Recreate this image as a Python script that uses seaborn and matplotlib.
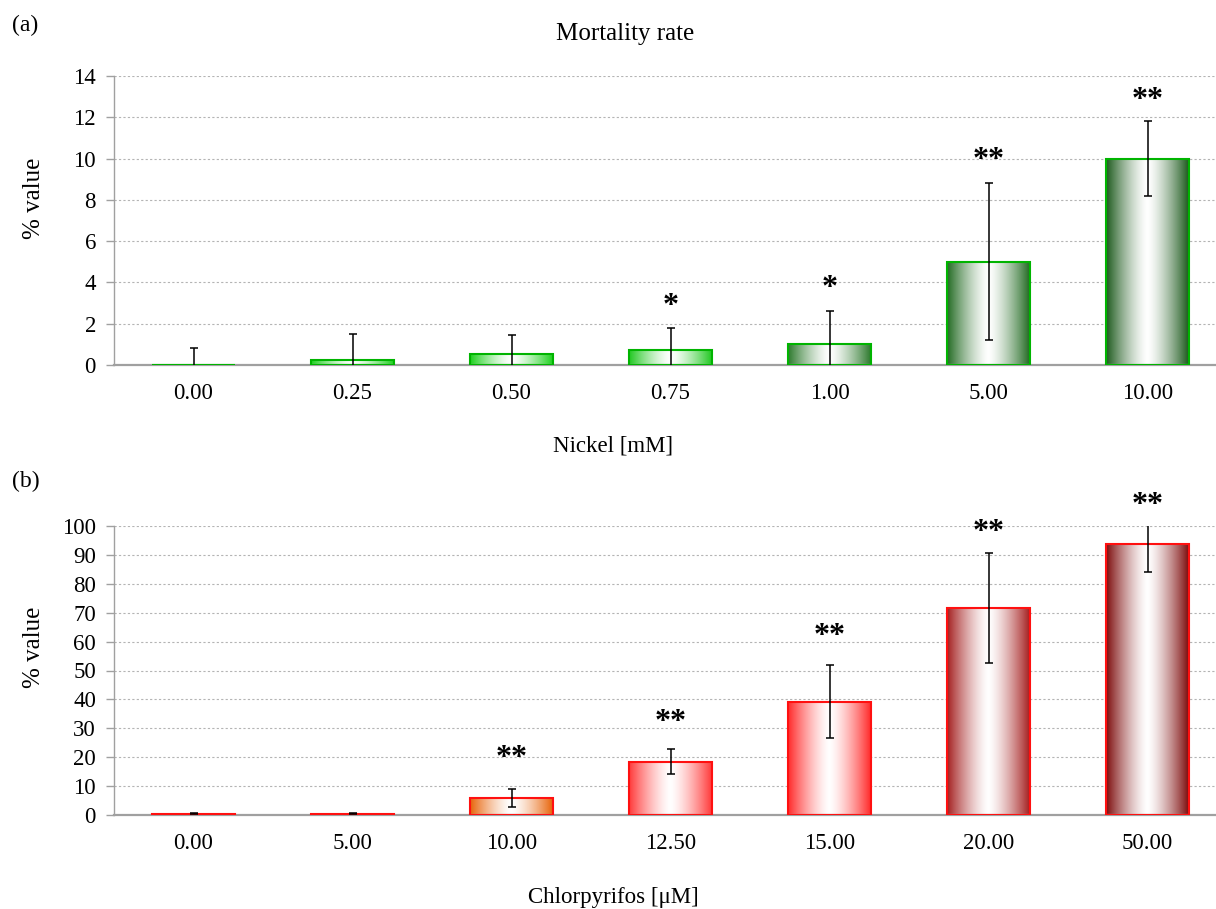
import numpy as np
import matplotlib
matplotlib.use("Agg")
import matplotlib.pyplot as plt
import seaborn as sns
from matplotlib.colors import to_rgb

# Panel (a): nickel
ni_labels = ['0.00', '0.25', '0.50', '0.75', '1.00', '5.00', '10.00']
ni_mean = [0.0, 0.24, 0.52, 0.72, 1.0, 5.0, 10.0]
ni_err = [0.81, 1.24, 0.92, 1.05, 1.6, 3.8, 1.8]
ni_sig = ['', '', '', '*', '*', '**', '**']
ni_sig_y = [0, 0, 0, 3.3, 4.2, 10.4, 13.3]
ni_colors = ['#1ed21e', '#1ed21e', '#1ed21e', '#22c822', '#2e7a2e', '#236b23', '#1d5a1d']

# Panel (b): chlorpyrifos
cp_labels = ['0.00', '5.00', '10.00', '12.50', '15.00', '20.00', '50.00']
cp_mean = [0.5, 0.4, 5.8, 18.5, 39.2, 71.7, 93.7]
cp_err = [0.2, 0.15, 3.1, 4.4, 12.6, 19.1, 9.5]
cp_sig = ['', '', '**', '**', '**', '**', '**']
cp_sig_y = [0, 0, 22.8, 35.5, 65, 101, 110.5]
cp_colors = ['#e23030', '#e23030', '#e8640a', '#ff3a3a', '#ff2a2a', '#a52020', '#7e0c0c']

sns.set_style("white")
plt.rcParams['font.family'] = ['Liberation Serif', 'DejaVu Serif']
plt.rcParams['text.color'] = 'black'

W, H = 1216, 909
fig = plt.figure(figsize=(W / 100, H / 100), dpi=100)
ax_a = fig.add_axes([114 / W, 1 - 365 / H, 1113 / W, 289 / H])
ax_b = fig.add_axes([114 / W, 1 - 815 / H, 1113 / W, 289 / H])


def gradient(color):
    c = np.array(to_rgb(color))
    u = np.linspace(0, 1, 200)
    t = np.abs(2 * u - 1) ** 1.4
    arr = (1 - t)[:, None] * np.ones(3) + t[:, None] * c
    return arr[None, :, :]


def draw_panel(ax, labels, means, errs, sig, sig_y, colors, edge, ymax, ystep):
    sns.barplot(x=labels, y=means, hue=labels, palette=colors, legend=False,
                order=labels, width=0.52, saturation=1, ax=ax)
    bars = sorted(ax.patches, key=lambda p: p.get_x())
    for bar, col in zip(bars, colors):
        x0, y0 = bar.get_x(), bar.get_y()
        w, h = bar.get_width(), bar.get_height()
        bar.set_facecolor('none')
        bar.set_edgecolor(edge)
        bar.set_linewidth(1.5)
        bar.set_zorder(3)
        if h > 0:
            ax.imshow(gradient(col), extent=(x0, x0 + w, y0, y0 + h),
                      aspect='auto', interpolation='bilinear', zorder=2)
    pos = np.arange(len(labels))
    ax.errorbar(pos, means, yerr=errs, fmt='none', ecolor='black',
                elinewidth=1.1, capsize=3, capthick=1.1, zorder=4)
    for i, s in enumerate(sig):
        if s:
            ax.annotate(s, (i, sig_y[i]), xytext=(0, -7), textcoords='offset points',
                        ha='center', va='center', fontsize=23, fontweight='bold',
                        color='black', zorder=5, annotation_clip=False)

    ax.set_xlim(-0.5, 6.5)
    ax.set_ylim(0, ymax)
    ax.set_yticks(np.arange(0, ymax + 0.1, ystep))
    ax.set_xticks(pos)
    ax.set_xticklabels(labels)
    ax.set_xticks(np.arange(-0.5, 6, 1), minor=True)
    ax.set_xlabel('')
    ax.set_ylabel('')
    ax.set_axisbelow(True)
    ax.yaxis.grid(True, linestyle=(0, (2, 2)), color='#b4b4b4', linewidth=0.8)
    ax.xaxis.grid(False)
    for side in ['top', 'right']:
        ax.spines[side].set_visible(False)
    ax.spines['left'].set_color('#a0a0a0')
    ax.spines['bottom'].set_color('#a0a0a0')
    ax.spines['left'].set_linewidth(1.0)
    ax.spines['bottom'].set_linewidth(1.6)
    ax.tick_params(axis='x', which='major', length=0, pad=13, labelsize=16.5,
                   labelcolor='black')
    ax.tick_params(axis='x', which='minor', length=8, width=1, color='#a0a0a0',
                   direction='out')
    ax.tick_params(axis='y', length=6, width=1, color='#a0a0a0', pad=7,
                   labelsize=16.5, labelcolor='black', left=True)


draw_panel(ax_a, ni_labels, ni_mean, ni_err, ni_sig, ni_sig_y, ni_colors,
           '#00b400', 14, 2)
draw_panel(ax_b, cp_labels, cp_mean, cp_err, cp_sig, cp_sig_y, cp_colors,
           '#ff1010', 100, 10)

fig.text(12 / W, 1 - 25 / H, '(a)', ha='left', va='center', fontsize=17)
fig.text(625 / W, 1 - 34 / H, 'Mortality rate', ha='center', va='center', fontsize=18)
fig.text(613 / W, 1 - 446 / H, 'Nickel [mM]', ha='center', va='center', fontsize=16.5)
fig.text(12 / W, 1 - 481 / H, '(b)', ha='left', va='center', fontsize=17)
fig.text(613 / W, 1 - 897 / H, 'Chlorpyrifos [\u03bcM]', ha='center', va='center', fontsize=16.5)
fig.text(34 / W, 1 - 198 / H, '% value', ha='center', va='center', rotation=90, fontsize=18)
fig.text(34 / W, 1 - 647 / H, '% value', ha='center', va='center', rotation=90, fontsize=18)

fig.savefig('out.png', dpi=100)
